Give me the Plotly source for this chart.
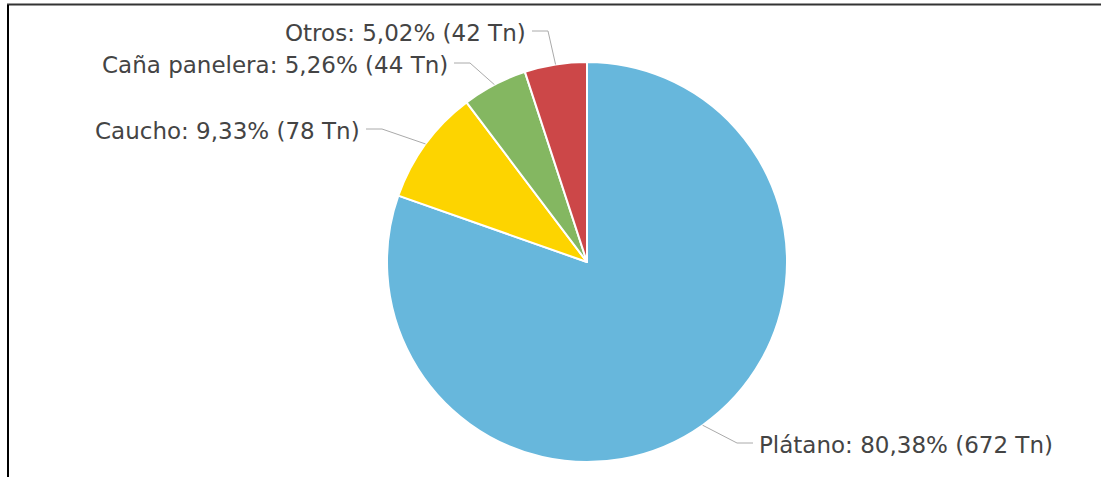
import math
import plotly.graph_objects as go

# ---- data ----
categories = ["Plátano", "Caucho", "Caña panelera", "Otros"]
tons = [672, 78, 44, 42]
percent_labels = ["80,38%", "9,33%", "5,26%", "5,02%"]
colors = ["#67b7dc", "#fdd400", "#84b761", "#cc4748"]

W, H = 1101, 477
CX, CY, R = 587, 262, 200  # pie centre / radius in pixels

def px(x):
    return x / W

def py(y):
    return 1 - y / H

fig = go.Figure()
fig.add_trace(go.Pie(
    labels=categories,
    values=tons,
    sort=False,
    direction="clockwise",
    rotation=0,
    marker=dict(colors=colors, line=dict(color="#ffffff", width=2)),
    textinfo="none",
    hoverinfo="label+value+percent",
    showlegend=False,
    domain=dict(x=[px(CX - R), px(CX + R)], y=[py(CY + R), py(CY - R)]),
))

# label layout: bend point of the leader line (pixels) and side
label_bends = {
    "Plátano": (737, 443, "right"),
    "Caucho": (382, 129, "left"),
    "Caña panelera": (470, 63, "left"),
    "Otros": (548, 31, "left"),
}

total = sum(tons)
cum = 0
shapes = []
annotations = []
for cat, v, pct in zip(categories, tons, percent_labels):
    mid = (cum + v / 2) / total * 2 * math.pi
    cum += v
    ex = CX + R * math.sin(mid)
    ey = CY - R * math.cos(mid)
    bx, by, side = label_bends[cat]
    tx = bx + 16 if side == "right" else bx - 16
    shapes.append(dict(
        type="path", xref="paper", yref="paper",
        path=f"M {px(ex)} {py(ey)} L {px(bx)} {py(by)} L {px(tx)} {py(by)}",
        line=dict(color="#aaaaaa", width=1),
    ))
    annotations.append(dict(
        x=px(tx + (4 if side == "right" else -4)), y=py(by + 2),
        xref="paper", yref="paper",
        xanchor="left" if side == "right" else "right",
        yanchor="middle",
        text=f"{cat}: {pct} ({v} Tn)",
        showarrow=False,
        font=dict(family="DejaVu Sans, Verdana, sans-serif", size=23, color="#444444"),
    ))

# document frame lines
shapes.append(dict(type="line", xref="paper", yref="paper",
                   x0=px(7), x1=1, y0=py(4.5), y1=py(4.5),
                   line=dict(color="#333333", width=2)))
shapes.append(dict(type="line", xref="paper", yref="paper",
                   x0=px(8), x1=px(8), y0=py(5), y1=0,
                   line=dict(color="#000000", width=2)))

fig.update_layout(
    width=W, height=H,
    margin=dict(l=0, r=0, t=0, b=0),
    paper_bgcolor="#ffffff",
    plot_bgcolor="#ffffff",
    shapes=shapes,
    annotations=annotations,
)

fig.write_html(
    "out.html",
    config={"displayModeBar": False},
    post_script="document.body.style.margin='0';document.body.style.overflow='hidden';",
)
